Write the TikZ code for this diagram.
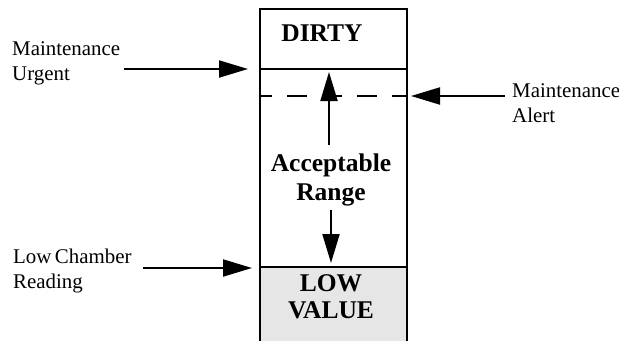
\documentclass[tikz,border=0pt]{standalone}
\usepackage{fontspec}
\setmainfont{Liberation Serif}
\usetikzlibrary{arrows.meta}
\definecolor{lowgray}{HTML}{E6E6E6}
\begin{document}
\begin{tikzpicture}[x=1pt,y=-1pt,
  frame/.style={line width=2pt},
  sep/.style={line width=2pt},
  alertline/.style={line width=2pt, dash pattern=on 20pt off 15pt, dash phase=8pt},
  lbl/.style={font=\fontsize{20.9}{25}\selectfont, align=left, inner sep=0pt, anchor=base west},
  zonetxt/.style={font=\fontsize{25.5}{29}\selectfont\bfseries, align=center, inner sep=0pt, anchor=base},
  arr/.style={line width=2pt, -{Triangle[length=29pt,width=17pt]}},
]
\useasboundingbox (0,0) rectangle (619,341);
% zones
\fill[lowgray] (260,267) rectangle (407,341);
\coordinate (tl) at (260,9);
\coordinate (tr) at (407,9);
\coordinate (bl) at (260,341);
\coordinate (br) at (407,341);
\coordinate (urgL) at (260,69);
\coordinate (urgR) at (407,69);
\coordinate (altL) at (260,96);
\coordinate (altR) at (407,96);
\coordinate (lowL) at (260,267);
\coordinate (lowR) at (407,267);
\draw[frame] (bl) -- (tl) -- (tr) -- (br);
\draw[sep] (urgL) -- (urgR);
\draw[sep] (lowL) -- (lowR);
\draw[alertline] (altL) -- (altR);
% zone texts (base anchor = last line baseline)
\node[zonetxt] (dirty) at (322,41) {DIRTY};
\node[zonetxt] (acc) at (331,200) {Acceptable\\Range};
\node[zonetxt] (low) at (331,318) {LOW\\[-2pt]VALUE};
% inner arrows
\coordinate (upS) at (329,145);
\coordinate (upT) at (329,72);
\coordinate (dnS) at (331,210);
\coordinate (dnT) at (331,263);
\draw[arr] (upS) -- (upT);
\draw[arr] (dnS) -- (dnT);
% side labels
\node[lbl] (mu) at (12,80) {Maintenance\\Urgent};
\node[lbl] (ma) at (512,122) {Maintenance\\Alert};
\node[lbl] (lc) at (13,288) {Low\,Chamber\\Reading};
\coordinate (muS) at (124,69);
\coordinate (muT) at (248,69);
\coordinate (maS) at (505,96);
\coordinate (maT) at (411,96);
\coordinate (lcS) at (143,268);
\coordinate (lcT) at (252,268);
\draw[arr] (muS) -- (muT);
\draw[arr] (maS) -- (maT);
\draw[arr] (lcS) -- (lcT);
\end{tikzpicture}
\end{document}
